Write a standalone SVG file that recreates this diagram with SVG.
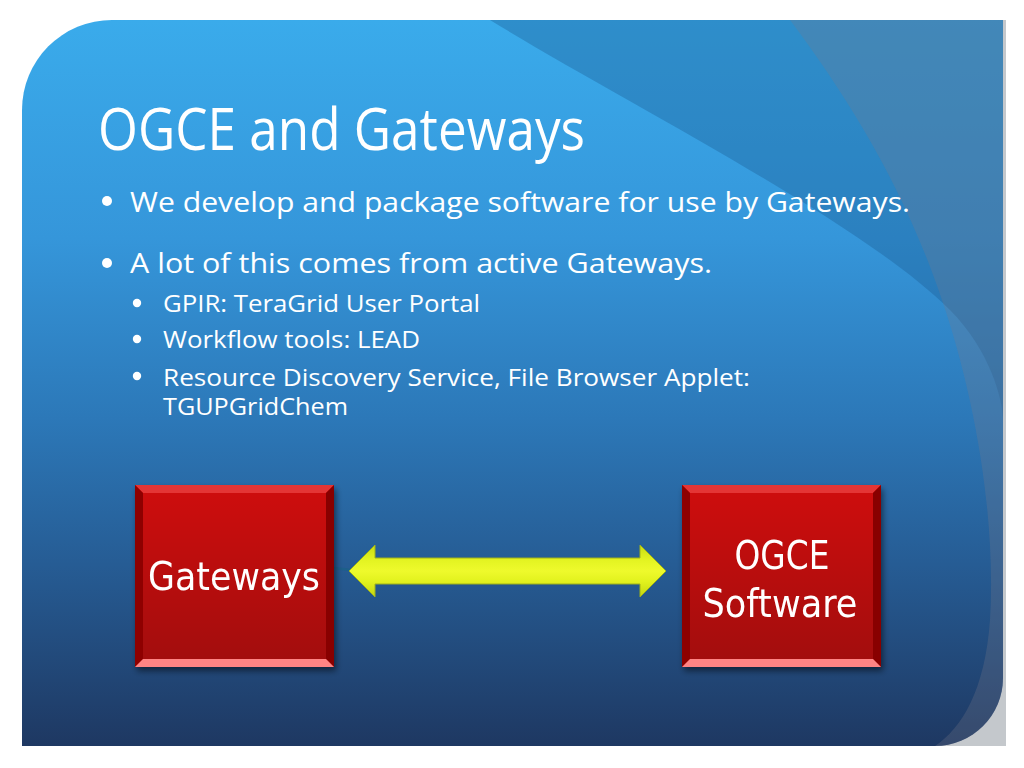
<svg xmlns="http://www.w3.org/2000/svg" width="1024" height="768" viewBox="0 0 1024 768">
  <defs>
    <linearGradient id="bg" x1="0" y1="20" x2="0" y2="746" gradientUnits="userSpaceOnUse">
      <stop offset="0" stop-color="#3aabeb"/>
      <stop offset="0.3" stop-color="#3596da"/>
      <stop offset="0.55" stop-color="#2c78b8"/>
      <stop offset="0.75" stop-color="#265c94"/>
      <stop offset="1" stop-color="#1e3862"/>
    </linearGradient>
    <linearGradient id="boxfill" x1="0" y1="0" x2="0" y2="1">
      <stop offset="0" stop-color="#cf0b0b"/>
      <stop offset="1" stop-color="#a10909"/>
    </linearGradient>
    <linearGradient id="arrowfill" x1="0" y1="545" x2="0" y2="597" gradientUnits="userSpaceOnUse">
      <stop offset="0" stop-color="#c9dc10"/>
      <stop offset="0.3" stop-color="#e4f422"/>
      <stop offset="0.5" stop-color="#eefa2c"/>
      <stop offset="0.7" stop-color="#e2f21e"/>
      <stop offset="1" stop-color="#c3d60e"/>
    </linearGradient>
    <filter id="shadow" x="-10%" y="-10%" width="125%" height="125%">
      <feGaussianBlur in="SourceAlpha" stdDeviation="3"/>
      <feOffset dx="2" dy="4" result="b"/>
      <feComponentTransfer><feFuncA type="linear" slope="0.5"/></feComponentTransfer>
      <feMerge><feMergeNode/><feMergeNode in="SourceGraphic"/></feMerge>
    </filter>
    <clipPath id="slideclip">
      <path d="M22,746 L22,110 A90,90 0 0 1 112,20 L1003,20 L1003,678 A68,68 0 0 1 935,746 Z"/>
    </clipPath>
  </defs>
  <style>
    .t { fill: #ffffff; font-family: "Open Sans", "Noto Sans", "DejaVu Sans", sans-serif; }
    .title { font-size: 58px; }
    .b1 { font-size: 28px; }
    .b2 { font-size: 23px; }
    .box { font-family: "DejaVu Sans", "Open Sans", sans-serif; font-size: 39px; }
    .dot { fill: #ffffff; }
    .bevel-top { fill: #e43434; }
    .bevel-left { fill: #8e0000; }
    .bevel-right { fill: #880000; }
    .bevel-bottom { fill: #ff8484; }
  </style>

  <rect width="1024" height="768" fill="#ffffff"/>

  <g id="slide-bg">
    <rect x="880" y="20" width="126" height="726" fill="#c4c8cc"/>
    <path d="M22,746 L22,110 A90,90 0 0 1 112,20 L1003,20 L1003,678 A68,68 0 0 1 935,746 Z" fill="url(#bg)"/>
    <g clip-path="url(#slideclip)">
      <path d="M490,20 C620,100 860,220 950,310 C990,350 1003,400 1003,420 L1003,20 Z" fill="#1a5a90" opacity="0.35"/>
      <path d="M790,20 C850,100 905,190 942,300 C976,400 996,520 990,620 C985,690 962,728 935,746 L1006,746 L1006,20 Z" fill="#7a7a8a" opacity="0.27"/>
    </g>
  </g>

  <g id="title">
    <text class="t title" x="98" y="150" textLength="487" lengthAdjust="spacingAndGlyphs">OGCE and Gateways</text>
  </g>

  <g id="bullets">
    <circle class="dot" cx="107" cy="201" r="5"/>
    <text class="t b1" x="130" y="212" textLength="780" lengthAdjust="spacingAndGlyphs">We develop and package software for use by Gateways.</text>
    <circle class="dot" cx="107" cy="263" r="5"/>
    <text class="t b1" x="130" y="273" textLength="582" lengthAdjust="spacingAndGlyphs">A lot of this comes from active Gateways.</text>
    <circle class="dot" cx="137" cy="303" r="4.2"/>
    <text class="t b2" x="163" y="312" textLength="317" lengthAdjust="spacingAndGlyphs">GPIR: TeraGrid User Portal</text>
    <circle class="dot" cx="137" cy="339" r="4.2"/>
    <text class="t b2" x="163" y="348" textLength="257" lengthAdjust="spacingAndGlyphs">Workflow tools: LEAD</text>
    <circle class="dot" cx="137" cy="376" r="4.2"/>
    <text class="t b2" x="163" y="386" textLength="587" lengthAdjust="spacingAndGlyphs">Resource Discovery Service, File Browser Applet:</text>
    <text class="t b2" x="163" y="415" textLength="185" lengthAdjust="spacingAndGlyphs">TGUPGridChem</text>
  </g>

  <g id="connectors">
    <line x1="334" y1="568" x2="351" y2="570" stroke="#1d5f8a" stroke-width="2.5"/>
    <path d="M349,571 L375,545 L375,558 L640,558 L640,545 L666,571 L640,597 L640,584 L375,584 L375,597 Z" fill="url(#arrowfill)" stroke="#9fb21a" stroke-width="1"/>
  </g>

  <g id="node-gateways" filter="url(#shadow)">
    <rect x="135" y="485" width="199" height="182" fill="url(#boxfill)"/>
    <polygon class="bevel-top" points="135,485 334,485 326,493 143,493"/>
    <polygon class="bevel-left" points="135,485 143,493 143,659 135,667"/>
    <polygon class="bevel-right" points="334,485 334,667 326,659 326,493"/>
    <polygon class="bevel-bottom" points="135,667 143,659 326,659 334,667"/>
    <text class="t box" x="234" y="590" text-anchor="middle" textLength="172" lengthAdjust="spacingAndGlyphs">Gateways</text>
  </g>

  <g id="node-ogce" filter="url(#shadow)">
    <rect x="682" y="485" width="199" height="182" fill="url(#boxfill)"/>
    <polygon class="bevel-top" points="682,485 881,485 873,493 690,493"/>
    <polygon class="bevel-left" points="682,485 690,493 690,659 682,667"/>
    <polygon class="bevel-right" points="881,485 881,667 873,659 873,493"/>
    <polygon class="bevel-bottom" points="682,667 690,659 873,659 881,667"/>
    <text class="t box" x="782" y="569" text-anchor="middle" textLength="95" lengthAdjust="spacingAndGlyphs">OGCE</text>
    <text class="t box" x="780" y="617" text-anchor="middle" textLength="155" lengthAdjust="spacingAndGlyphs">Software</text>
  </g>
</svg>
